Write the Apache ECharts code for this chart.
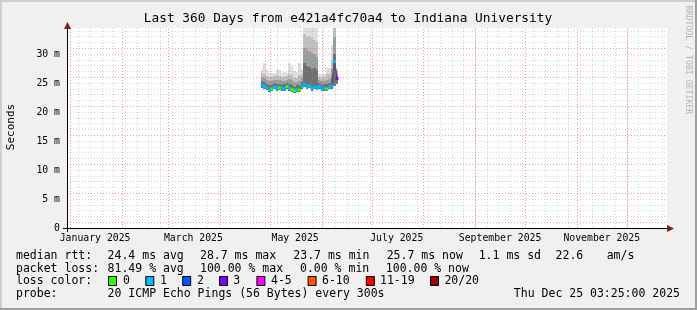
<!DOCTYPE html>
<html><head><meta charset="utf-8">
<script src="https://cdn.jsdelivr.net/npm/echarts@6/dist/echarts.min.js"></script>
<style>html,body{margin:0;padding:0;background:#f0f0f0}#c{width:697px;height:310px}</style>
</head><body><div id="c"></div>
<script>
// ---------- data ----------
const chartTitle = 'Last 360 Days from e421a4fc70a4 to Indiana University';
const yAxisName = 'Seconds';
const watermark = 'RRDTOOL / TOBI OETIKER';
const startUTC = Date.UTC(2024, 11, 30, 3, 25, 0); // graph start (360 days before end)
const monthStarts = ['2025-01-01','2025-02-01','2025-03-01','2025-04-01','2025-05-01','2025-06-01',
                     '2025-07-01','2025-08-01','2025-09-01','2025-10-01','2025-11-01','2025-12-01'];
const xLabelDates = ['2025-01-16','2025-03-16','2025-05-16','2025-07-16','2025-09-16','2025-11-16'];
const xLabels = ['January 2025','March 2025','May 2025','July 2025','September 2025','November 2025'];
const yMajorTicks = [0, 5, 10, 15, 20, 25, 30];

// sample times, in days from graph start; each sample covers 1.5 days
const sampleDays = [117,118.5,120,121.5,123,124.5,126,127.5,129,130.5,132,133.5,135,136.5,138,139.5,
                    141,142.5,144,145.5,147,148.5,150,151.5,153,154.5,156,157.5,159,160.5,162];
const sampleSpan = 1.5;
// median rtt (ms)
const median = [24.6,24.4,24.2,23.8,24.0,24.3,24.1,24.2,24.0,24.1,24.4,24.1,23.9,23.7,23.9,23.8,
                24.4,24.8,24.4,24.5,24.1,24.3,24.2,24.4,24.0,24.1,24.0,24.3,24.5,28.7,25.8];
// lost pings out of 20
const lossCount = [1,1,1,1,0,1,1,0,1,1,0,1,0,0,1,0,1,1,1,1,1,1,1,1,1,1,0,1,1,1,3];
// smoke levels (ms): lowest ping, inner core top, next levels, highest ping
const smokeLo  = [24.2,24.0,23.8,23.4,23.6,23.9,23.7,23.8,23.6,23.7,24.0,23.7,23.5,23.3,23.5,23.4,
                  24.0,24.3,24.0,24.1,23.7,23.9,23.8,24.0,23.6,23.7,23.6,23.9,24.0,24.5,24.8];
const smokeMid = [25.3,25.1,24.9,24.6,24.7,25.0,24.8,24.9,24.7,24.8,25.0,24.9,24.7,24.4,24.6,24.6,
                  25.1,28.5,28.0,27.8,27.5,27.6,27.2,25.0,24.7,24.8,24.8,25.0,26.0,30.0,26.3];
const smokeU1  = [26.0,25.8,25.6,25.3,25.4,25.6,25.5,25.6,25.3,25.4,25.6,25.7,25.5,25.1,25.2,25.4,
                  25.8,31.0,30.8,30.5,30.2,30.0,29.5,25.6,25.3,25.4,25.6,25.7,27.5,33.0,26.8];
const smokeU2  = [26.7,26.6,26.3,26.0,26.1,26.2,26.4,26.3,26.0,26.1,26.2,26.6,26.4,25.9,25.9,26.4,
                  26.5,33.5,33.0,33.2,32.8,32.5,32.0,26.1,25.9,26.0,26.5,26.5,29.0,36.0,27.2];
const smokeHi  = [27.4,28.4,27.5,26.8,26.7,26.8,27.5,27.3,26.8,26.9,26.7,28.4,28.0,27.0,26.9,28.5,
                  27.5,40,40,40,40,40,40,26.6,26.4,26.6,27.8,27.6,31.5,40,27.5];

const lossColors = ['#26ff00','#00b8ff','#0059ff','#7e00ff','#ff00ff','#ff5500','#ff0000','#a00000'];
const lossLabels = ['0','1','2','3','4-5','6-10','11-19','20/20'];
const rttRow  = ['median rtt:','24.4 ms avg','28.7 ms max','23.7 ms min','25.7 ms now','1.1 ms sd','22.6','am/s'];
const lossRow = ['packet loss:','81.49 % avg','100.00 % max','0.00 % min','100.00 % now'];
const probeRow = ['probe:','20 ICMP Echo Pings (56 Bytes) every 300s','Thu Dec 25 03:25:00 2025'];

// ---------- helpers ----------
const dayOf = s => (Date.parse(s + 'T00:00:00Z') - startUTC) / 86400000;
const monthDays = monthStarts.map(dayOf);
const labelDays = xLabelDates.map(dayOf);
const MONO = '"DejaVu Sans Mono", monospace';
const RED = 'rgba(235,80,80,0.6)';
const GRAY = 'rgba(150,150,150,0.4)';
const bandColors = ['#707070', '#9c9c9c', '#c0c0c0', '#dedede'];

const smokeData = sampleDays.map((d, i) => [d, smokeLo[i], smokeMid[i], smokeU1[i], smokeU2[i], smokeHi[i]]);

function renderSmoke(params, api) {
  const d = api.value(0);
  const levels = [api.value(1), api.value(2), api.value(3), api.value(4), api.value(5)];
  const cs = params.coordSys;
  const children = [];
  for (let b = 0; b < 4; b++) {
    const p1 = api.coord([d - sampleSpan / 2, levels[b + 1]]);
    const p2 = api.coord([d + sampleSpan / 2, levels[b]]);
    const x1 = Math.round(p1[0]), x2 = Math.round(p2[0]);
    const y1 = Math.round(Math.max(p1[1], cs.y)), y2 = Math.round(p2[1]);
    if (x2 > x1 && y2 > y1) {
      children.push({ type: 'rect', shape: { x: x1, y: y1, width: x2 - x1, height: y2 - y1 },
                      style: { fill: bandColors[b] } });
    }
  }
  return { type: 'group', children };
}

const series = [
  {
    type: 'custom', name: 'smoke', z: 1, silent: true, renderItem: renderSmoke,
    encode: { x: 0, y: [1, 5] }, data: smokeData
  },
  {
    type: 'line', name: 'months', z: 2, silent: true, data: [],
    markLine: {
      silent: true, symbol: ['none', 'none'], label: { show: false },
      lineStyle: { color: RED, type: [1, 2], width: 1 },
      emphasis: { disabled: true },
      data: monthDays.map(d => ({ xAxis: d }))
    }
  },
  {
    type: 'line', name: 'median', z: 5, silent: true,
    symbol: 'rect', symbolSize: 3, showSymbol: true, showAllSymbol: true,
    lineStyle: { width: 1.5 },
    emphasis: { disabled: true },
    data: sampleDays.map((d, i) => [d, median[i], lossCount[i]])
  }
];

// ---------- graphics (frame, legend text) ----------
const gfx = [];
const txt = (x, y, text, size, opts) => gfx.push(Object.assign({
  type: 'text', x, y, silent: true,
  style: Object.assign({ text, fill: '#000', font: size + 'px ' + MONO,
    textAlign: 'left', textVerticalAlign: 'middle', align: 'left', verticalAlign: 'middle' }, (opts && opts.style) || {})
}, (opts && opts.el) || {}));

// frame
gfx.push({ type: 'rect', shape: { x: 0, y: 0, width: 697, height: 2 }, style: { fill: '#cfcfcf' }, silent: true });
gfx.push({ type: 'rect', shape: { x: 0, y: 0, width: 2, height: 310 }, style: { fill: '#cfcfcf' }, silent: true });
gfx.push({ type: 'rect', shape: { x: 0, y: 308, width: 697, height: 2 }, style: { fill: '#9e9e9e' }, silent: true });
gfx.push({ type: 'rect', shape: { x: 695, y: 0, width: 2, height: 310 }, style: { fill: '#9e9e9e' }, silent: true });

// title
txt(348, 18.5, chartTitle, 12.8, { style: { textAlign: 'center', align: 'center' } });
// y name
txt(11, 127, yAxisName, 11, { el: { rotation: Math.PI / 2 }, style: { textAlign: 'center', align: 'center' } });
// watermark
txt(688, 60, watermark, 8.2, { el: { rotation: -Math.PI / 2 }, style: { fill: '#b4b4b4', textAlign: 'center', align: 'center' } });

// axis extensions + arrows
gfx.push({ type: 'line', shape: { x1: 63, y1: 228.5, x2: 668, y2: 228.5 }, style: { stroke: '#000', lineWidth: 1 }, silent: true, z: 10 });
gfx.push({ type: 'line', shape: { x1: 67.5, y1: 232, x2: 67.5, y2: 26 }, style: { stroke: '#000', lineWidth: 1 }, silent: true, z: 10 });
gfx.push({ type: 'polygon', shape: { points: [[64, 29], [71, 29], [67.5, 22]] }, style: { fill: '#7f1f1f' }, silent: true, z: 10 });
gfx.push({ type: 'polygon', shape: { points: [[667, 225], [667, 232], [674, 228.5]] }, style: { fill: '#7f1f1f' }, silent: true, z: 10 });

// legend rows
const LF = 11.5;
const rttX = [16, 107.6, 200, 293.3, 386.7, 478.7, 555.6, 606.7];
rttRow.forEach((t, i) => txt(rttX[i], 256, t, LF));
const lossX = [16, 107.6, 200, 300, 385.8];
lossRow.forEach((t, i) => txt(lossX[i], 268.7, t, LF));
txt(16, 281.3, 'loss color:', LF);
const boxX = [108, 145.3, 182.2, 219, 256.4, 307.6, 365.8, 430];
const lblX = [123, 160, 197, 233.3, 271, 322, 380, 444.4];
lossColors.forEach((c, i) => {
  gfx.push({ type: 'rect', silent: true, shape: { x: boxX[i] + 0.5, y: 276.5, width: 8, height: 9 },
             style: { fill: c, stroke: '#000', lineWidth: 1 } });
  txt(lblX[i], 281.3, lossLabels[i], LF);
});
txt(16, 294.5, probeRow[0], LF);
txt(107.6, 294.5, probeRow[1], LF);
txt(680, 294.5, probeRow[2], LF, { style: { textAlign: 'right', align: 'right' } });

// ---------- chart ----------
const chart = echarts.init(document.getElementById('c'), null, { renderer: 'canvas' });
chart.setOption({
  animation: false,
  backgroundColor: '#f0f0f0',
  grid: { left: 67, top: 28, right: 30, bottom: 82, containLabel: false, outerBoundsMode: 'none',
          show: true, backgroundColor: '#ffffff', borderWidth: 0 },
  xAxis: {
    type: 'value', min: 0, max: 360, interval: 7, z: 2,
    axisLine: { show: true, lineStyle: { color: '#000', width: 1 } },
    axisTick: { show: false },
    splitLine: { show: true, showMinLine: false, showMaxLine: false,
                 lineStyle: { color: GRAY, type: [1, 2], width: 1 } },
    axisLabel: {
      customValues: labelDays, margin: 5, color: '#000', fontFamily: MONO, fontSize: 9.8,
      formatter: v => { const i = labelDays.findIndex(d => Math.abs(d - v) < 1e-6); return i >= 0 ? xLabels[i] : ''; }
    }
  },
  yAxis: {
    type: 'value', min: 0, max: 34.5, interval: 1, z: 2,
    axisLine: { show: true, lineStyle: { color: '#000', width: 1 } },
    axisTick: { show: false },
    splitLine: { show: true, showMinLine: false, showMaxLine: false,
                 lineStyle: { color: [RED, GRAY, GRAY, GRAY, GRAY], type: [1, 2], width: 1 } },
    axisLabel: {
      margin: 7, color: '#000', fontFamily: MONO, fontSize: 9.8, showMaxLabel: false,
      formatter: v => yMajorTicks.indexOf(v) >= 0 ? (v === 0 ? '0' : v + ' m') : ''
    }
  },
  visualMap: {
    show: false, type: 'piecewise', seriesIndex: 2, dimension: 2,
    pieces: [
      { value: 0, color: lossColors[0] }, { value: 1, color: lossColors[1] },
      { value: 2, color: lossColors[2] }, { value: 3, color: lossColors[3] },
      { min: 4, max: 5, color: lossColors[4] }, { min: 6, max: 10, color: lossColors[5] },
      { min: 11, max: 19, color: lossColors[6] }, { value: 20, color: lossColors[7] }
    ]
  },
  series,
  graphic: { elements: gfx }
});
</script>
</body></html>
